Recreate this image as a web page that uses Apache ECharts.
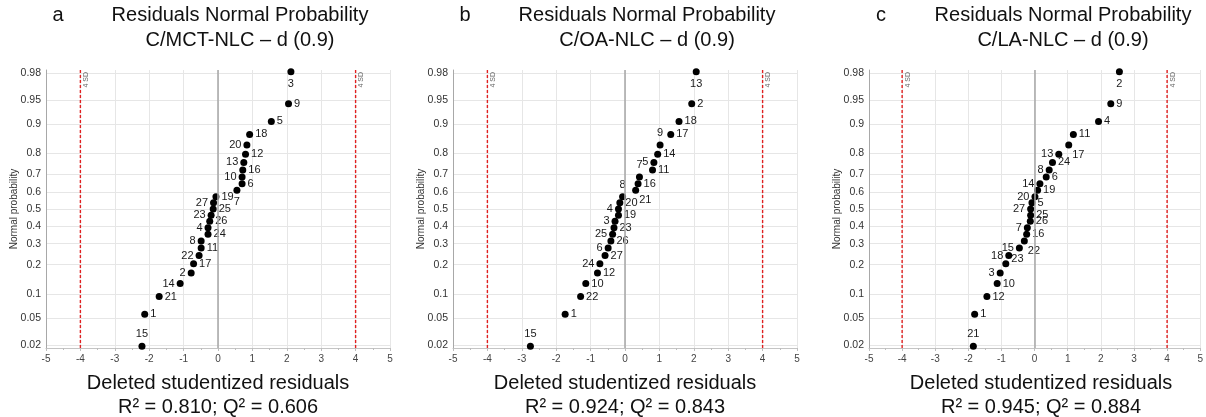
<!DOCTYPE html>
<html>
<head>
<meta charset="utf-8">
<title>Residuals Normal Probability</title>
<script src="https://cdn.jsdelivr.net/npm/echarts@6/dist/echarts.min.js"></script>
<style>
  html, body { margin: 0; padding: 0; background: #ffffff; }
  #chart { width: 1206px; height: 417px; }
</style>
</head>
<body>
<div id="chart"></div>
<script>
// Plotting positions of the 27 ordered residuals (normal probability axis)
const plotPositions = [0.019, 0.056, 0.093, 0.130, 0.167, 0.204, 0.241, 0.278, 0.315, 0.352,
  0.389, 0.426, 0.463, 0.500, 0.537, 0.574, 0.611, 0.648, 0.685, 0.722,
  0.759, 0.796, 0.833, 0.870, 0.907, 0.944, 0.981];

// Probability tick labels on the y axis
const probTicks = [0.02, 0.05, 0.1, 0.2, 0.3, 0.4, 0.5, 0.6, 0.7, 0.8, 0.9, 0.95, 0.98];
// Residual axis ticks
const residTicks = [-5, -4, -3, -2, -1, 0, 1, 2, 3, 4, 5];
// Outlier limits (± 4 SD)
const sdLimits = [-4, 4];

// Panel a: C/MCT-NLC – d (0.9)
const compoundsA = [15, 1, 21, 14, 2, 17, 22, 11, 8, 24, 4, 26, 23, 25, 27, 19, 7, 6, 10, 16, 13, 12, 20, 18, 5, 9, 3];
const residualsA = [-2.21, -2.13, -1.71, -1.10, -0.78, -0.71, -0.55, -0.49, -0.49, -0.29, -0.29, -0.24, -0.20, -0.14, -0.13,
  -0.06, 0.55, 0.70, 0.70, 0.72, 0.75, 0.80, 0.84, 0.92, 1.55, 2.05, 2.12];

// Panel b: C/OA-NLC – d (0.9)
const compoundsB = [15, 1, 22, 10, 12, 24, 27, 6, 26, 25, 23, 3, 19, 4, 20, 8, 21, 16, 7, 11, 5, 14, 9, 17, 18, 2, 13];
const residualsB = [-2.75, -1.74, -1.29, -1.14, -0.80, -0.73, -0.58, -0.49, -0.41, -0.36, -0.32, -0.29, -0.19, -0.19, -0.15,
  -0.07, 0.31, 0.38, 0.42, 0.80, 0.84, 0.95, 1.02, 1.33, 1.57, 1.94, 2.07];

// Panel c: C/LA-NLC – d (0.9)
const compoundsC = [21, 1, 12, 10, 3, 23, 18, 15, 22, 16, 7, 26, 25, 27, 5, 20, 19, 14, 6, 8, 24, 13, 17, 11, 4, 9, 2];
const residualsC = [-1.85, -1.81, -1.44, -1.13, -1.04, -0.87, -0.78, -0.46, -0.31, -0.24, -0.22, -0.13, -0.12, -0.12, -0.08,
  0.01, 0.09, 0.16, 0.35, 0.44, 0.54, 0.73, 1.03, 1.17, 1.93, 2.30, 2.56];

// Statistics under each panel
const fitStats = [
  { r2: '0.810', q2: '0.606' },
  { r2: '0.924', q2: '0.843' },
  { r2: '0.945', q2: '0.884' }
];
const panelModels = ['C/MCT-NLC – d (0.9)', 'C/OA-NLC – d (0.9)', 'C/LA-NLC – d (0.9)'];
const panelLetters = ['a', 'b', 'c'];

// Where each point's compound number sits relative to the point
const sidesA = ['top', 'right', 'right', 'left', 'left', 'right', 'left', 'right', 'left', 'right', 'left', 'right', 'left', 'right',
  'left', 'right', 'bottom', 'right', 'left', 'right', 'left', 'right', 'left', 'right', 'right', 'right', 'bottom'];
const sidesB = ['top', 'right', 'right', 'right', 'right', 'left', 'right', 'left', 'right', 'left', 'right', 'left', 'right', 'left',
  'right', 'top', 'lowRight', 'right', 'top', 'right', 'left', 'right', 'top', 'right', 'right', 'right', 'bottom'];
const sidesC = ['top', 'right', 'right', 'right', 'left', 'highRight', 'left', 'left', 'lowRight', 'right', 'left', 'right', 'right',
  'left', 'right', 'left', 'right', 'left', 'right', 'left', 'right', 'left', 'lowRight', 'right', 'right', 'right', 'bottom'];

// Inverse standard normal CDF (Acklam's rational approximation)
function probit(p) {
  const a = [-3.969683028665376e+01, 2.209460984245205e+02, -2.759285104469687e+02, 1.383577518672690e+02, -3.066479806614716e+01, 2.506628277459239e+00];
  const b = [-5.447609879822406e+01, 1.615858368580409e+02, -1.556989798598866e+02, 6.680131188771972e+01, -1.328068155288572e+01];
  const c = [-7.784894002430293e-03, -3.223964580411365e-01, -2.400758277161838e+00, -2.549671010229528e+00, 4.374664141464968e+00, 2.938163982698783e+00];
  const d = [7.784695709041462e-03, 3.224671290700398e-01, 2.445134137142996e+00, 3.754408661907416e+00];
  const pl = 0.02425, ph = 1 - pl;
  let q, r;
  if (p < pl) {
    q = Math.sqrt(-2 * Math.log(p));
    return (((((c[0] * q + c[1]) * q + c[2]) * q + c[3]) * q + c[4]) * q + c[5]) / ((((d[0] * q + d[1]) * q + d[2]) * q + d[3]) * q + 1);
  }
  if (p <= ph) {
    q = p - 0.5; r = q * q;
    return (((((a[0] * r + a[1]) * r + a[2]) * r + a[3]) * r + a[4]) * r + a[5]) * q / (((((b[0] * r + b[1]) * r + b[2]) * r + b[3]) * r + b[4]) * r + 1);
  }
  q = Math.sqrt(-2 * Math.log(1 - p));
  return -(((((c[0] * q + c[1]) * q + c[2]) * q + c[3]) * q + c[4]) * q + c[5]) / ((((d[0] * q + d[1]) * q + d[2]) * q + d[3]) * q + 1);
}

const probTickValues = probTicks.map(probit);
function probLabel(v) {
  let best = 0;
  probTickValues.forEach((t, i) => { if (Math.abs(t - v) < Math.abs(probTickValues[best] - v)) best = i; });
  return String(probTicks[best]);
}

const FONT = '"Liberation Sans", Arial, sans-serif';
const Y_MIN = -2.1, Y_MAX = 2.1;
const SD_RED = '#e02020';
const PLOT_W = 344, PLOT_TOP = 70, PLOT_H = 278;
const panels = [
  { compounds: compoundsA, residuals: residualsA, sides: sidesA, left: 46 },
  { compounds: compoundsB, residuals: residualsB, sides: sidesB, left: 453 },
  { compounds: compoundsC, residuals: residualsC, sides: sidesC, left: 869 }
];

function pointLabel(side) {
  const base = { show: true, fontSize: 11, color: '#1a1a1a', fontFamily: FONT, distance: 2 };
  if (side === 'lowRight') return Object.assign(base, { position: 'right', offset: [-2, 10] });
  if (side === 'highRight') return Object.assign(base, { position: 'right', offset: [0, -5] });
  if (side === 'top' || side === 'bottom') return Object.assign(base, { position: side, distance: 3 });
  return Object.assign(base, { position: side });
}

const grids = [], xAxes = [], yAxes = [], series = [], graphics = [];

panels.forEach((p, i) => {
  grids.push({ left: p.left, top: PLOT_TOP, width: PLOT_W, height: PLOT_H, containLabel: false });
  xAxes.push({
    type: 'value', gridIndex: i, min: residTicks[0], max: residTicks[residTicks.length - 1], interval: 1,
    axisLine: { show: true, onZero: false, lineStyle: { color: '#c4c4c4', width: 1 } },
    axisTick: { show: true, length: 3, lineStyle: { color: '#bdbdbd' } },
    minorTick: { show: true, splitNumber: 2, length: 2, lineStyle: { color: '#bdbdbd' } },
    axisLabel: { fontSize: 10, color: '#444', fontFamily: FONT, margin: 6 },
    splitLine: { show: true, lineStyle: { color: '#e6e6e6', width: 1 } }
  });
  yAxes.push({
    type: 'value', gridIndex: i, min: Y_MIN, max: Y_MAX,
    name: 'Normal probability', nameLocation: 'middle', nameGap: 27, nameMoveOverlap: false,
    nameTextStyle: { fontSize: 10, color: '#333', fontFamily: FONT },
    axisLine: { show: true, onZero: false, lineStyle: { color: '#a8a8a8', width: 1 } },
    axisTick: { show: false, customValues: probTickValues },
    axisLabel: { customValues: probTickValues, fontSize: 10.5, color: '#333', fontFamily: FONT, margin: 5, formatter: probLabel },
    splitLine: { show: true, lineStyle: { color: '#e6e6e6', width: 1 } }
  });

  // ± 4 SD limits as dashed vertical lines
  sdLimits.forEach(v => {
    series.push({
      type: 'line', xAxisIndex: i, yAxisIndex: i, z: 2,
      symbol: 'none', silent: true,
      lineStyle: { color: SD_RED, width: 1.4, type: [3, 2] },
      emphasis: { disabled: true },
      data: [[v, Y_MIN], [v, Y_MAX]]
    });
  });
  // "4 SD" captions next to the limits
  series.push({
    type: 'scatter', xAxisIndex: i, yAxisIndex: i, z: 1, data: [],
    markLine: {
      silent: true, symbol: 'none', animation: false,
      lineStyle: { color: 'rgba(0,0,0,0)', width: 1 },
      label: { show: true, formatter: '4 SD', position: 'insideEndBottom', fontSize: 7, color: '#666', fontFamily: FONT, distance: 2 },
      data: sdLimits.map(v => ({ xAxis: v }))
    }
  });
  // Zero reference line
  series.push({
    type: 'scatter', xAxisIndex: i, yAxisIndex: i, z: 1, data: [],
    markLine: {
      silent: true, symbol: 'none', animation: false,
      lineStyle: { color: '#a6a6a6', width: 1.5, type: 'solid', opacity: 1 },
      label: { show: false },
      data: [{ xAxis: 0 }]
    }
  });

  const data = p.residuals.map((x, k) => ({
    value: [x, probit(plotPositions[k])],
    name: String(p.compounds[k]),
    label: pointLabel(p.sides[k])
  }));

  series.push({
    type: 'scatter', xAxisIndex: i, yAxisIndex: i, z: 3,
    symbol: 'circle', symbolSize: 7,
    itemStyle: { color: '#000000', opacity: 1 },
    label: { formatter: '{b}' },
    emphasis: { disabled: true },
    data: data
  });

  const zeroX = p.left + PLOT_W / 2;
  const textStyle = (txt, x, y) => ({
    type: 'text', x: x, y: y,
    style: { text: txt, fill: '#111', font: '20px ' + FONT, align: 'center', verticalAlign: 'middle' }
  });
  graphics.push(textStyle(panelLetters[i], p.left + 12, 15));
  graphics.push(textStyle('Residuals Normal Probability', zeroX + 22, 15));
  graphics.push(textStyle(panelModels[i], zeroX + 22, 40));
  graphics.push(textStyle('Deleted studentized residuals', zeroX, 383));
  graphics.push(textStyle('R² = ' + fitStats[i].r2 + '; Q² = ' + fitStats[i].q2, zeroX, 407));
});

const chart = echarts.init(document.getElementById('chart'), null, { renderer: 'canvas' });
chart.setOption({
  animation: false,
  backgroundColor: '#ffffff',
  textStyle: { fontFamily: FONT },
  grid: grids,
  xAxis: xAxes,
  yAxis: yAxes,
  series: series,
  graphic: graphics
});
</script>
</body>
</html>
